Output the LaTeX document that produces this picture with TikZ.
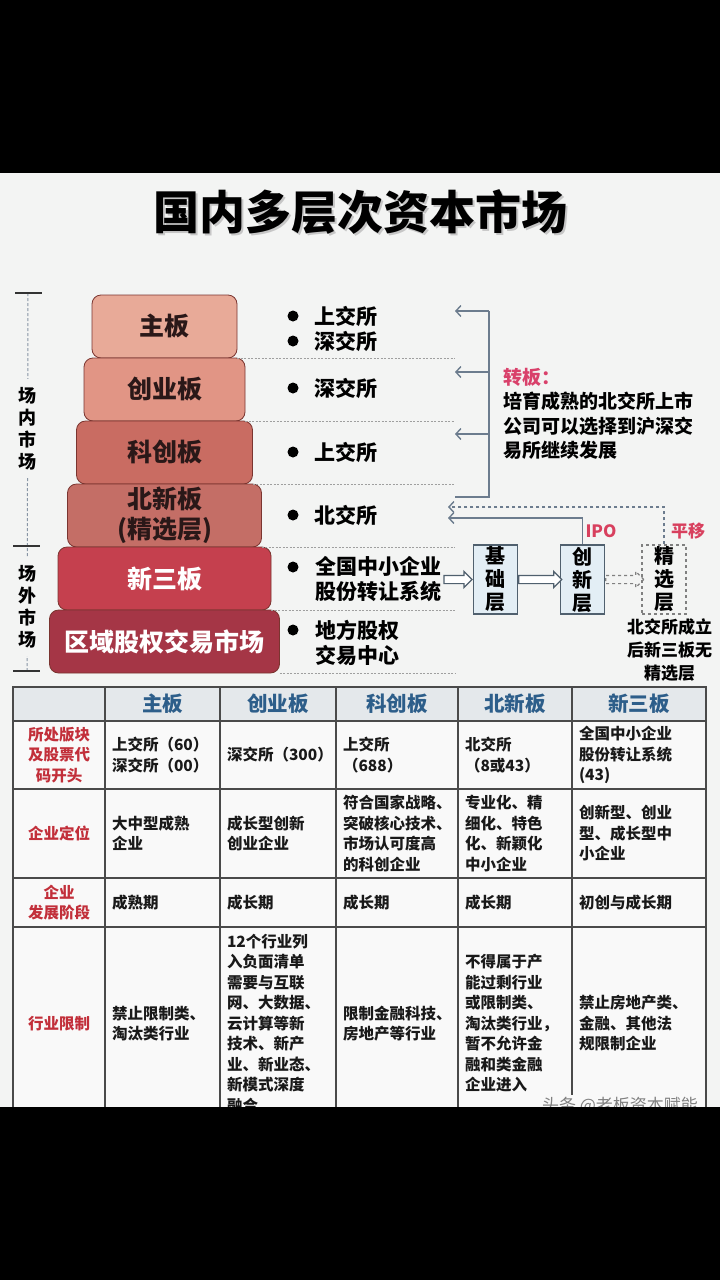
\documentclass[tikz,border=0pt]{standalone}
\usepackage{fontspec}
\setmainfont{Noto Sans CJK SC}
\usetikzlibrary{positioning, arrows.meta, shapes.arrows}
\definecolor{bgc}{HTML}{F3F4F3}
\definecolor{boardone}{HTML}{E8AA98}
\definecolor{boardtwo}{HTML}{E19585}
\definecolor{boardthree}{HTML}{C96C62}
\definecolor{boardfour}{HTML}{C46E66}
\definecolor{boardfive}{HTML}{C5404E}
\definecolor{boardsix}{HTML}{A53646}
\definecolor{boardline}{HTML}{7A3530}
\definecolor{darktext}{HTML}{2A1818}
\definecolor{linkc}{HTML}{6C7C8E}
\definecolor{zbred}{HTML}{D9416B}
\definecolor{ipored}{HTML}{D8405E}
\definecolor{flowfill}{HTML}{E3EEF5}
\definecolor{flowline}{HTML}{50606E}
\definecolor{tabhead}{HTML}{E4E8EB}
\definecolor{tabbody}{HTML}{F9F9F9}
\definecolor{tabline}{HTML}{4A4A4A}
\definecolor{headblue}{HTML}{2D5E8A}
\definecolor{rowred}{HTML}{C22F3A}

\begin{document}
\begin{tikzpicture}[
    x=1pt, y=-1pt,
    node distance=0pt,
    board/.style={rectangle, draw=boardline, line width=0.8pt, rounded corners=9pt, minimum height=63pt, outer sep=0pt, inner sep=0pt, align=center, font=\fontsize{25}{30}\selectfont\bfseries},
    item/.style={anchor=west, align=left, inner sep=0pt, text=black, font=\fontsize{21}{25}\selectfont\bfseries},
    dot/.style={circle, fill=black, minimum size=11pt, inner sep=0pt},
    divider/.style={draw=gray!75, line width=0.7pt, dash pattern=on 2pt off 1.5pt},
    link/.style={draw=linkc, line width=1.4pt},
    barb/.style={-{Straight Barb[length=5pt, width=11pt]}},
    tier/.style={rectangle, draw=flowline, fill=flowfill, line width=1.3pt, minimum width=44pt, minimum height=69pt, inner sep=0pt, align=center, font=\fontsize{20}{23}\selectfont\bfseries},
    hollow/.style={single arrow, draw=flowline, fill=white, line width=1.2pt, minimum height=#1, inner sep=3.5pt, single arrow head extend=4pt},
    redlab/.style={text=ipored, font=\fontsize{17}{20}\selectfont\bfseries, inner sep=0pt},
    sidelabel/.style={fill=bgc, inner xsep=1pt, inner ysep=8pt, align=center, font=\fontsize{18}{22}\selectfont\bfseries},
    endbar/.style={draw=black!80, line width=1.5pt},
    cell/.style={anchor=north west, draw=tabline, line width=1.2pt, outer sep=0pt, inner xsep=7pt, inner ysep=0pt, align=left, fill=tabbody, text=black!90, font=\fontsize{15.5}{20.5}\selectfont\bfseries},
    hcell/.style={cell, fill=tabhead, align=center, text=headblue, font=\fontsize{20.5}{24}\selectfont\bfseries},
    rcell/.style={cell, align=center, text=rowred},
    w0/.style={text width=78pt}, w1/.style={text width=101pt}, w2/.style={text width=102pt},
    w3/.style={text width=108pt}, w4/.style={text width=100pt}, w5/.style={text width=120pt},
    h0/.style={minimum height=34pt}, h1/.style={minimum height=68pt}, h2/.style={minimum height=89pt},
    h3/.style={minimum height=49pt}, h4/.style={minimum height=193pt}
]
\useasboundingbox (0,0) rectangle (720,1280);
\fill[black] (0,0) rectangle (720,1280);
\fill[bgc] (0,173) rectangle (720,1107);

% title
\node[text=gray!45, font=\fontsize{46}{50}\selectfont\bfseries] (titleshade) at (362,214) {国内多层次资本市场};
\node[text=black, font=\fontsize{46}{50}\selectfont\bfseries] (titletext) at (360,212) {国内多层次资本市场};

% left brace
\coordinate (lt1) at (28,293);
\coordinate (lt2) at (27,546);
\coordinate (lt3) at (27,671);
\draw[draw=linkc!80, line width=1pt, dash pattern=on 3pt off 2pt] (lt1) -- (lt3);
\draw[endbar] ([xshift=-13pt]lt1) -- ([xshift=14pt]lt1);
\draw[endbar] ([xshift=-14pt]lt2) -- ([xshift=13pt]lt2);
\draw[endbar] ([xshift=-14pt]lt3) -- ([xshift=13pt]lt3);
\node[sidelabel] (inside) at (28,428.5) {场\\内\\市\\场};
\node[sidelabel] (outside) at (28,606.5) {场\\外\\市\\场};

% boards
\node[board, fill=boardone, minimum width=145pt, text=darktext] (zb) at (164.5,326.5) {主板};
\node[board, fill=boardtwo, minimum width=161pt, text=darktext, below=of zb] (cyb) {创业板};
\node[board, fill=boardthree, minimum width=176pt, text=darktext, below=of cyb] (kcb) {科创板};
\node[board, fill=boardfour, minimum width=194pt, text=darktext, below=of kcb] (bxb) {北新板\\(精选层)};
\node[board, fill=boardfive, minimum width=213pt, text=white, below=of bxb] (xsb) {新三板};
\node[board, fill=boardsix, minimum width=230pt, text=white, below=of xsb] (qy) {区域股权交易市场};

% exchanges
\node[dot] (d1) at (293,316) {};
\node[item, right=16pt of d1] (s1) {上交所};
\node[dot] (d2) at (293,341) {};
\node[item, right=16pt of d2] (s2) {深交所};
\node[dot] (d3) at (293,388) {};
\node[item, right=16pt of d3] (s3) {深交所};
\node[dot] (d4) at (293,452) {};
\node[item, right=16pt of d4] (s4) {上交所};
\node[dot] (d5) at (293,515) {};
\node[item, right=16pt of d5] (s5) {北交所};
\node[dot] (d6) at (293,567) {};
\node[item] (s6) at (315,579.5) {全国中小企业\\股份转让系统};
\node[dot] (d7) at (293,630) {};
\node[item] (s7) at (315,642.5) {地方股权\\交易中心};

\coordinate (sepx) at (455,0);
\draw[divider] (zb.south east) -- (zb.south east -| sepx);
\draw[divider] (cyb.south east) -- (cyb.south east -| sepx);
\draw[divider] (kcb.south east) -- (kcb.south east -| sepx);
\draw[divider] (bxb.south east) -- (bxb.south east -| sepx);
\draw[divider] (xsb.south east) -- (xsb.south east -| sepx);
\draw[divider] (qy.south east) -- (qy.south east -| sepx);

% transfer bracket
\coordinate (bx0) at (455,497);
\coordinate (bk0) at (489,497);
\coordinate (bk1) at (489,311);
\coordinate (bk2) at (489,372);
\coordinate (bk3) at (489,434);
\draw[link] (bx0) -- (bk0) -- (bk1);
\draw[link, barb] (bk1) -- (bk1 -| sepx);
\draw[link, barb] (bk2) -- (bk2 -| sepx);
\draw[link, barb] (bk3) -- (bk3 -| sepx);
\node[anchor=north west, align=left, inner sep=0pt, font=\fontsize{19}{24.5}\selectfont\bfseries] (zbtext) at (503,368)
    {{\color{zbred}转板：}\\培育成熟的北交所上市\\公司可以选择到沪深交\\易所继续发展};

% NEEQ layers
\node[tier] (jcc) at (495.5,579.5) {基\\础\\层};
\node[tier] (cxc) at (582.5,579.5) {创\\新\\层};
\node[tier, dashed, draw=gray, fill=none] (jxc) at (664,579.5) {精\\选\\层};
\node[hollow=28pt, left=0pt of jcc] (h1) {};
\node[hollow=43pt, right=0pt of jcc] (h2) {};
\node[hollow=38pt, dashed, draw=gray, fill=none, right=0pt of cxc] (h3) {};
\coordinate (ipoend) at (448,518);
\coordinate (pyend) at (448,507);
\draw[link, barb] (cxc.north) |- (ipoend);
\draw[link, dashed, barb] (jxc.north) |- (pyend);
\node[redlab] (ipo) at (601,531) {IPO};
\node[redlab] (py) at (688,531) {平移};
\node[align=center, inner sep=0pt, font=\fontsize{17}{23}\selectfont\bfseries] (jxnote) at (669.5,650) {北交所成立\\后新三板无\\精选层};

% comparison table
\node[hcell, w0, h0] (t00) at (13,687) {};
\node[hcell, w1, h0] (t01) at (105,687) {主板};
\node[hcell, w2, h0] (t02) at (220,687) {创业板};
\node[hcell, w3, h0] (t03) at (336,687) {科创板};
\node[hcell, w4, h0] (t04) at (458,687) {北新板};
\node[hcell, w5, h0] (t05) at (572,687) {新三板};

\node[rcell, w0, h1] (t10) at (13,721) {所处版块\\及股票代\\码开头};
\node[cell, w1, h1] (t11) at (105,721) {上交所（60）\\深交所（00）};
\node[cell, w2, h1] (t12) at (220,721) {深交所（300）};
\node[cell, w3, h1] (t13) at (336,721) {上交所\\（688）};
\node[cell, w4, h1] (t14) at (458,721) {北交所\\（8或43）};
\node[cell, w5, h1] (t15) at (572,721) {全国中小企业\\股份转让系统\\(43)};

\node[rcell, w0, h2] (t20) at (13,789) {企业定位};
\node[cell, w1, h2] (t21) at (105,789) {大中型成熟\\企业};
\node[cell, w2, h2] (t22) at (220,789) {成长型创新\\创业企业};
\node[cell, w3, h2] (t23) at (336,789) {符合国家战略、\\突破核心技术、\\市场认可度高\\的科创企业};
\node[cell, w4, h2] (t24) at (458,789) {专业化、精\\细化、特色\\化、新颖化\\中小企业};
\node[cell, w5, h2] (t25) at (572,789) {创新型、创业\\型、成长型中\\小企业};

\node[rcell, w0, h3] (t30) at (13,878) {企业\\发展阶段};
\node[cell, w1, h3] (t31) at (105,878) {成熟期};
\node[cell, w2, h3] (t32) at (220,878) {成长期};
\node[cell, w3, h3] (t33) at (336,878) {成长期};
\node[cell, w4, h3] (t34) at (458,878) {成长期};
\node[cell, w5, h3] (t35) at (572,878) {初创与成长期};

\node[rcell, w0, h4] (t40) at (13,927) {行业限制};
\node[cell, w1, h4] (t41) at (105,927) {禁止限制类、\\淘汰类行业};
\node[cell, w2, h4] (t42) at (220,927) {12个行业列\\入负面清单\\需要与互联\\网、大数据、\\云计算等新\\技术、新产\\业、新业态、\\新模式深度\\融合};
\node[cell, w3, h4] (t43) at (336,927) {限制金融科技、\\房地产等行业};
\node[cell, w4, h4] (t44) at (458,927) {不得属于产\\能过剩行业\\或限制类、\\淘汰类行业，\\暂不允许金\\融和类金融\\企业进入};
\node[cell, w5, h4] (t45) at (572,927) {禁止房地产类、\\金融、其他法\\规限制企业};

\node[fill=tabbody, inner sep=2pt, text=gray, font=\fontsize{17}{20}\selectfont] (wmk) at (620,1106) {头条 @老板资本赋能};

\fill[black] (0,1107) rectangle (720,1280);
\end{tikzpicture}
\end{document}
